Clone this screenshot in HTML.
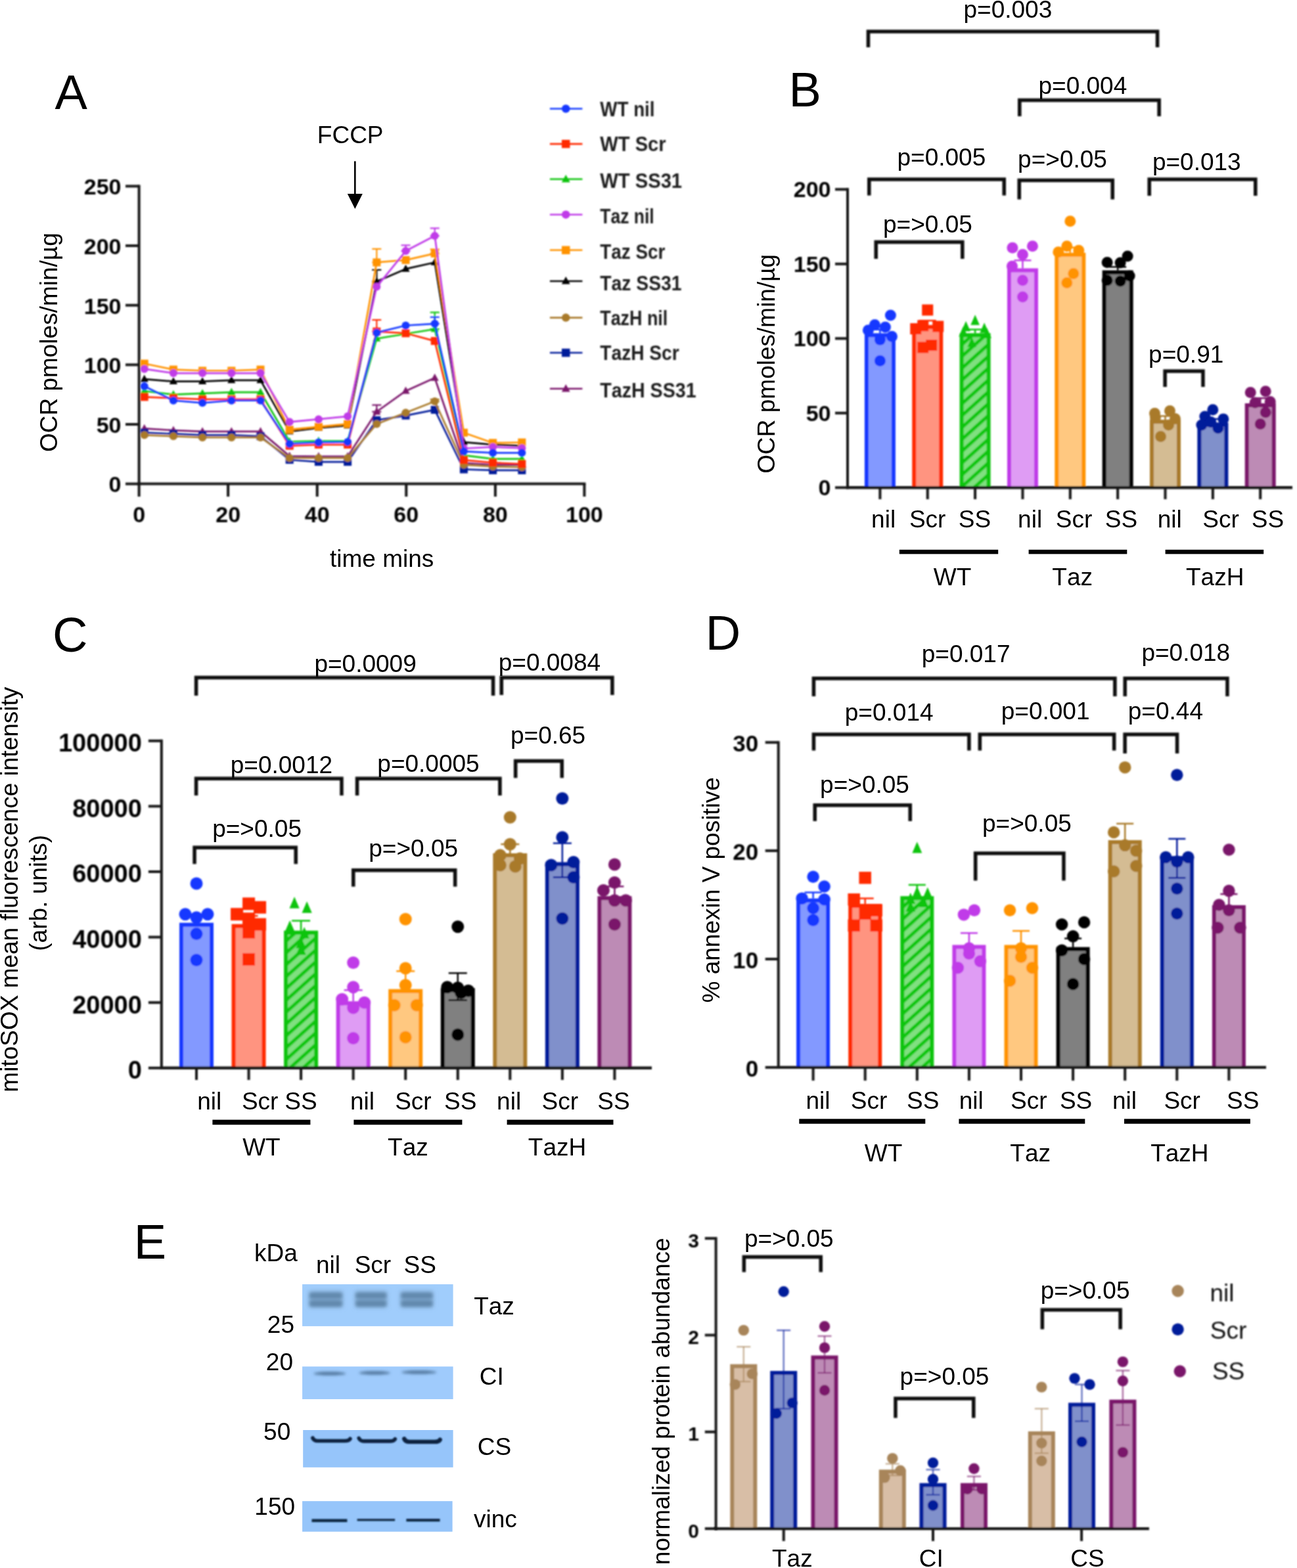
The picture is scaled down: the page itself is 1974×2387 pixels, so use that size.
<!DOCTYPE html>
<html><head><meta charset="utf-8"><title>Figure</title>
<style>
html,body{margin:0;padding:0;background:#fff;}
body{width:1974px;height:2387px;overflow:hidden;}
svg{display:block;}
text{font-family:"Liberation Sans", Arial, Helvetica, sans-serif;font-kerning:none;}
</style></head><body>
<svg width="1974" height="2387" viewBox="0 0 1974 2387">
<defs>
<filter id="soft" filterUnits="userSpaceOnUse" x="0" y="0" width="1974" height="2387"><feGaussianBlur stdDeviation="0.8"/></filter>
<pattern id="hatchG" patternUnits="userSpaceOnUse" width="13.4" height="13.4" patternTransform="rotate(-42)">
<rect width="13.4" height="13.4" fill="#80e080"/><rect width="13.4" height="5.2" fill="#10c610"/></pattern>
<filter id="bl1" x="-20%" y="-200%" width="140%" height="500%"><feGaussianBlur stdDeviation="1"/></filter>
<filter id="bl2" x="-20%" y="-200%" width="140%" height="500%"><feGaussianBlur stdDeviation="1.9"/></filter>
<filter id="bl3" x="-20%" y="-200%" width="140%" height="500%"><feGaussianBlur stdDeviation="2.6"/></filter>
<filter id="bl4" x="-20%" y="-100%" width="140%" height="300%"><feGaussianBlur stdDeviation="3.5"/></filter>
</defs>
<rect width="1974" height="2387" fill="#fff"/>
<g filter="url(#soft)">
<line x1="211.6" y1="281.45" x2="211.6" y2="738.6" stroke="#141414" stroke-width="4" stroke-linecap="butt"/>
<line x1="209.6" y1="736.6" x2="891.4" y2="736.6" stroke="#141414" stroke-width="4" stroke-linecap="butt"/>
<line x1="191" y1="736.6" x2="211.6" y2="736.6" stroke="#141414" stroke-width="4" stroke-linecap="butt"/>
<text x="184.5" y="749.4" font-size="34" font-weight="bold" text-anchor="end" fill="#050505">0</text>
<line x1="191" y1="645.97" x2="211.6" y2="645.97" stroke="#141414" stroke-width="4" stroke-linecap="butt"/>
<text x="184.5" y="658.77" font-size="34" font-weight="bold" text-anchor="end" fill="#050505">50</text>
<line x1="191" y1="555.34" x2="211.6" y2="555.34" stroke="#141414" stroke-width="4" stroke-linecap="butt"/>
<text x="184.5" y="568.14" font-size="34" font-weight="bold" text-anchor="end" fill="#050505">100</text>
<line x1="191" y1="464.71" x2="211.6" y2="464.71" stroke="#141414" stroke-width="4" stroke-linecap="butt"/>
<text x="184.5" y="477.51" font-size="34" font-weight="bold" text-anchor="end" fill="#050505">150</text>
<line x1="191" y1="374.08" x2="211.6" y2="374.08" stroke="#141414" stroke-width="4" stroke-linecap="butt"/>
<text x="184.5" y="386.88" font-size="34" font-weight="bold" text-anchor="end" fill="#050505">200</text>
<line x1="191" y1="283.45" x2="211.6" y2="283.45" stroke="#141414" stroke-width="4" stroke-linecap="butt"/>
<text x="184.5" y="296.25" font-size="34" font-weight="bold" text-anchor="end" fill="#050505">250</text>
<line x1="211.6" y1="736.6" x2="211.6" y2="756" stroke="#141414" stroke-width="4" stroke-linecap="butt"/>
<text x="211.6" y="795" font-size="34" font-weight="bold" text-anchor="middle" fill="#050505">0</text>
<line x1="347.16" y1="736.6" x2="347.16" y2="756" stroke="#141414" stroke-width="4" stroke-linecap="butt"/>
<text x="347.16" y="795" font-size="34" font-weight="bold" text-anchor="middle" fill="#050505">20</text>
<line x1="482.72" y1="736.6" x2="482.72" y2="756" stroke="#141414" stroke-width="4" stroke-linecap="butt"/>
<text x="482.72" y="795" font-size="34" font-weight="bold" text-anchor="middle" fill="#050505">40</text>
<line x1="618.28" y1="736.6" x2="618.28" y2="756" stroke="#141414" stroke-width="4" stroke-linecap="butt"/>
<text x="618.28" y="795" font-size="34" font-weight="bold" text-anchor="middle" fill="#050505">60</text>
<line x1="753.84" y1="736.6" x2="753.84" y2="756" stroke="#141414" stroke-width="4" stroke-linecap="butt"/>
<text x="753.84" y="795" font-size="34" font-weight="bold" text-anchor="middle" fill="#050505">80</text>
<line x1="889.4" y1="736.6" x2="889.4" y2="756" stroke="#141414" stroke-width="4" stroke-linecap="butt"/>
<text x="889.4" y="795" font-size="34" font-weight="bold" text-anchor="middle" fill="#050505">100</text>
</g>
<text x="581.2" y="862.7" font-size="37" text-anchor="middle" fill="#000">time mins</text>
<text transform="translate(87.3 521.2) rotate(-90)" font-size="37" text-anchor="middle" fill="#000">OCR pmoles/min/µg</text>
<text x="108.2" y="166.2" font-size="74" text-anchor="middle" fill="#000">A</text>
<text x="533.2" y="218" font-size="37" text-anchor="middle" fill="#000">FCCP</text>
<line x1="540.3" y1="245.4" x2="540.3" y2="298" stroke="#000" stroke-width="2.6" stroke-linecap="butt"/>
<path d="M528.8 295 L551.8 295 L540.3 318 Z" fill="#000"/>
<g filter="url(#soft)">
<line x1="573.3" y1="616.61" x2="573.3" y2="626.76" stroke="#7a176b" stroke-width="2.2" stroke-linecap="butt"/>
<line x1="566.3" y1="616.61" x2="580.3" y2="616.61" stroke="#7a176b" stroke-width="2.2" stroke-linecap="butt"/>
<line x1="566.3" y1="626.76" x2="580.3" y2="626.76" stroke="#7a176b" stroke-width="2.2" stroke-linecap="butt"/>
<polyline points="219.7,652.31 263.9,655.03 308.1,656.85 352.3,656.85 396.5,656.85 440.7,694.37 484.9,694.91 529.1,694.91 573.3,626.76 617.5,595.22 661.7,575.28 705.9,704.88 750.1,707.6 794.3,707.6" fill="none" stroke="#7a176b" stroke-width="2.7" stroke-linejoin="round"/>
<path d="M219.7 645.7 L225.82 656.72 L213.58 656.72 Z" fill="#7a176b"/>
<path d="M263.9 648.42 L270.02 659.44 L257.78 659.44 Z" fill="#7a176b"/>
<path d="M308.1 650.24 L314.22 661.25 L301.98 661.25 Z" fill="#7a176b"/>
<path d="M352.3 650.24 L358.42 661.25 L346.18 661.25 Z" fill="#7a176b"/>
<path d="M396.5 650.24 L402.62 661.25 L390.38 661.25 Z" fill="#7a176b"/>
<path d="M440.7 687.76 L446.82 698.77 L434.58 698.77 Z" fill="#7a176b"/>
<path d="M484.9 688.3 L491.02 699.32 L478.78 699.32 Z" fill="#7a176b"/>
<path d="M529.1 688.3 L535.22 699.32 L522.98 699.32 Z" fill="#7a176b"/>
<path d="M573.3 620.15 L579.42 631.16 L567.18 631.16 Z" fill="#7a176b"/>
<path d="M617.5 588.61 L623.62 599.62 L611.38 599.62 Z" fill="#7a176b"/>
<path d="M661.7 568.67 L667.82 579.68 L655.58 579.68 Z" fill="#7a176b"/>
<path d="M705.9 698.27 L712.02 709.29 L699.78 709.29 Z" fill="#7a176b"/>
<path d="M750.1 700.99 L756.22 712 L743.98 712 Z" fill="#7a176b"/>
<path d="M794.3 700.99 L800.42 712 L788.18 712 Z" fill="#7a176b"/>
<polyline points="219.7,658.66 263.9,660.47 308.1,662.28 352.3,662.28 396.5,664.1 440.7,699.99 484.9,703.07 529.1,703.07 573.3,639.63 617.5,632.56 661.7,623.86 705.9,714.49 750.1,715.94 794.3,715.94" fill="none" stroke="#031a9a" stroke-width="2.7" stroke-linejoin="round"/>
<rect x="213.7" y="652.66" width="12" height="12" fill="#031a9a"/>
<rect x="257.9" y="654.47" width="12" height="12" fill="#031a9a"/>
<rect x="302.1" y="656.28" width="12" height="12" fill="#031a9a"/>
<rect x="346.3" y="656.28" width="12" height="12" fill="#031a9a"/>
<rect x="390.5" y="658.1" width="12" height="12" fill="#031a9a"/>
<rect x="434.7" y="693.99" width="12" height="12" fill="#031a9a"/>
<rect x="478.9" y="697.07" width="12" height="12" fill="#031a9a"/>
<rect x="523.1" y="697.07" width="12" height="12" fill="#031a9a"/>
<rect x="567.3" y="633.63" width="12" height="12" fill="#031a9a"/>
<rect x="611.5" y="626.56" width="12" height="12" fill="#031a9a"/>
<rect x="655.7" y="617.86" width="12" height="12" fill="#031a9a"/>
<rect x="699.9" y="708.49" width="12" height="12" fill="#031a9a"/>
<rect x="744.1" y="709.94" width="12" height="12" fill="#031a9a"/>
<rect x="788.3" y="709.94" width="12" height="12" fill="#031a9a"/>
<line x1="661.7" y1="607.91" x2="661.7" y2="610.99" stroke="#a97a2c" stroke-width="2.2" stroke-linecap="butt"/>
<line x1="654.7" y1="607.91" x2="668.7" y2="607.91" stroke="#a97a2c" stroke-width="2.2" stroke-linecap="butt"/>
<line x1="654.7" y1="610.99" x2="668.7" y2="610.99" stroke="#a97a2c" stroke-width="2.2" stroke-linecap="butt"/>
<polyline points="219.7,662.28 263.9,664.1 308.1,665.91 352.3,665.91 396.5,665.91 440.7,697.27 484.9,697.27 529.1,697.27 573.3,645.43 617.5,628.21 661.7,610.99 705.9,707.6 750.1,710.14 794.3,711.22" fill="none" stroke="#a97a2c" stroke-width="2.7" stroke-linejoin="round"/>
<circle cx="219.7" cy="662.28" r="6" fill="#a97a2c"/>
<circle cx="263.9" cy="664.1" r="6" fill="#a97a2c"/>
<circle cx="308.1" cy="665.91" r="6" fill="#a97a2c"/>
<circle cx="352.3" cy="665.91" r="6" fill="#a97a2c"/>
<circle cx="396.5" cy="665.91" r="6" fill="#a97a2c"/>
<circle cx="440.7" cy="697.27" r="6" fill="#a97a2c"/>
<circle cx="484.9" cy="697.27" r="6" fill="#a97a2c"/>
<circle cx="529.1" cy="697.27" r="6" fill="#a97a2c"/>
<circle cx="573.3" cy="645.43" r="6" fill="#a97a2c"/>
<circle cx="617.5" cy="628.21" r="6" fill="#a97a2c"/>
<circle cx="661.7" cy="610.99" r="6" fill="#a97a2c"/>
<circle cx="705.9" cy="707.6" r="6" fill="#a97a2c"/>
<circle cx="750.1" cy="710.14" r="6" fill="#a97a2c"/>
<circle cx="794.3" cy="711.22" r="6" fill="#a97a2c"/>
<line x1="573.3" y1="410.88" x2="573.3" y2="428.46" stroke="#000000" stroke-width="2.2" stroke-linecap="butt"/>
<line x1="566.3" y1="410.88" x2="580.3" y2="410.88" stroke="#000000" stroke-width="2.2" stroke-linecap="butt"/>
<line x1="566.3" y1="428.46" x2="580.3" y2="428.46" stroke="#000000" stroke-width="2.2" stroke-linecap="butt"/>
<polyline points="219.7,577.09 263.9,580.72 308.1,580.72 352.3,578.9 396.5,578.9 440.7,656.85 484.9,651.41 529.1,647.78 573.3,428.46 617.5,409.43 661.7,399.46 705.9,673.16 750.1,676.78 794.3,678.6" fill="none" stroke="#000000" stroke-width="2.7" stroke-linejoin="round"/>
<path d="M219.7 570.48 L225.82 581.5 L213.58 581.5 Z" fill="#000000"/>
<path d="M263.9 574.11 L270.02 585.12 L257.78 585.12 Z" fill="#000000"/>
<path d="M308.1 574.11 L314.22 585.12 L301.98 585.12 Z" fill="#000000"/>
<path d="M352.3 572.29 L358.42 583.31 L346.18 583.31 Z" fill="#000000"/>
<path d="M396.5 572.29 L402.62 583.31 L390.38 583.31 Z" fill="#000000"/>
<path d="M440.7 650.24 L446.82 661.25 L434.58 661.25 Z" fill="#000000"/>
<path d="M484.9 644.8 L491.02 655.81 L478.78 655.81 Z" fill="#000000"/>
<path d="M529.1 641.17 L535.22 652.19 L522.98 652.19 Z" fill="#000000"/>
<path d="M573.3 421.85 L579.42 432.86 L567.18 432.86 Z" fill="#000000"/>
<path d="M617.5 402.82 L623.62 413.83 L611.38 413.83 Z" fill="#000000"/>
<path d="M661.7 392.85 L667.82 403.86 L655.58 403.86 Z" fill="#000000"/>
<path d="M705.9 666.55 L712.02 677.57 L699.78 677.57 Z" fill="#000000"/>
<path d="M750.1 670.17 L756.22 681.19 L743.98 681.19 Z" fill="#000000"/>
<path d="M794.3 671.99 L800.42 683 L788.18 683 Z" fill="#000000"/>
<line x1="573.3" y1="378.97" x2="573.3" y2="399.46" stroke="#ff9300" stroke-width="2.2" stroke-linecap="butt"/>
<line x1="566.3" y1="378.97" x2="580.3" y2="378.97" stroke="#ff9300" stroke-width="2.2" stroke-linecap="butt"/>
<line x1="566.3" y1="399.46" x2="580.3" y2="399.46" stroke="#ff9300" stroke-width="2.2" stroke-linecap="butt"/>
<line x1="661.7" y1="379.52" x2="661.7" y2="385.86" stroke="#ff9300" stroke-width="2.2" stroke-linecap="butt"/>
<line x1="654.7" y1="379.52" x2="668.7" y2="379.52" stroke="#ff9300" stroke-width="2.2" stroke-linecap="butt"/>
<line x1="654.7" y1="385.86" x2="668.7" y2="385.86" stroke="#ff9300" stroke-width="2.2" stroke-linecap="butt"/>
<polyline points="219.7,553.53 263.9,562.59 308.1,564.4 352.3,564.4 396.5,562.59 440.7,653.95 484.9,649.6 529.1,645.43 573.3,399.46 617.5,395.83 661.7,385.86 705.9,658.66 750.1,674.25 794.3,673.52" fill="none" stroke="#ff9300" stroke-width="2.7" stroke-linejoin="round"/>
<rect x="213.7" y="547.53" width="12" height="12" fill="#ff9300"/>
<rect x="257.9" y="556.59" width="12" height="12" fill="#ff9300"/>
<rect x="302.1" y="558.4" width="12" height="12" fill="#ff9300"/>
<rect x="346.3" y="558.4" width="12" height="12" fill="#ff9300"/>
<rect x="390.5" y="556.59" width="12" height="12" fill="#ff9300"/>
<rect x="434.7" y="647.95" width="12" height="12" fill="#ff9300"/>
<rect x="478.9" y="643.6" width="12" height="12" fill="#ff9300"/>
<rect x="523.1" y="639.43" width="12" height="12" fill="#ff9300"/>
<rect x="567.3" y="393.46" width="12" height="12" fill="#ff9300"/>
<rect x="611.5" y="389.83" width="12" height="12" fill="#ff9300"/>
<rect x="655.7" y="379.86" width="12" height="12" fill="#ff9300"/>
<rect x="699.9" y="652.66" width="12" height="12" fill="#ff9300"/>
<rect x="744.1" y="668.25" width="12" height="12" fill="#ff9300"/>
<rect x="788.3" y="667.52" width="12" height="12" fill="#ff9300"/>
<line x1="617.5" y1="373.35" x2="617.5" y2="382.06" stroke="#c03ae8" stroke-width="2.2" stroke-linecap="butt"/>
<line x1="610.5" y1="373.35" x2="624.5" y2="373.35" stroke="#c03ae8" stroke-width="2.2" stroke-linecap="butt"/>
<line x1="610.5" y1="382.06" x2="624.5" y2="382.06" stroke="#c03ae8" stroke-width="2.2" stroke-linecap="butt"/>
<line x1="661.7" y1="347.43" x2="661.7" y2="359.04" stroke="#c03ae8" stroke-width="2.2" stroke-linecap="butt"/>
<line x1="654.7" y1="347.43" x2="668.7" y2="347.43" stroke="#c03ae8" stroke-width="2.2" stroke-linecap="butt"/>
<line x1="654.7" y1="359.04" x2="668.7" y2="359.04" stroke="#c03ae8" stroke-width="2.2" stroke-linecap="butt"/>
<polyline points="219.7,561.68 263.9,568.03 308.1,568.03 352.3,568.03 396.5,568.03 440.7,642.34 484.9,638.18 529.1,633.83 573.3,436.61 617.5,382.06 661.7,359.04 705.9,682.77 750.1,680.41 794.3,682.22" fill="none" stroke="#c03ae8" stroke-width="2.7" stroke-linejoin="round"/>
<circle cx="219.7" cy="561.68" r="6" fill="#c03ae8"/>
<circle cx="263.9" cy="568.03" r="6" fill="#c03ae8"/>
<circle cx="308.1" cy="568.03" r="6" fill="#c03ae8"/>
<circle cx="352.3" cy="568.03" r="6" fill="#c03ae8"/>
<circle cx="396.5" cy="568.03" r="6" fill="#c03ae8"/>
<circle cx="440.7" cy="642.34" r="6" fill="#c03ae8"/>
<circle cx="484.9" cy="638.18" r="6" fill="#c03ae8"/>
<circle cx="529.1" cy="633.83" r="6" fill="#c03ae8"/>
<circle cx="573.3" cy="436.61" r="6" fill="#c03ae8"/>
<circle cx="617.5" cy="382.06" r="6" fill="#c03ae8"/>
<circle cx="661.7" cy="359.04" r="6" fill="#c03ae8"/>
<circle cx="705.9" cy="682.77" r="6" fill="#c03ae8"/>
<circle cx="750.1" cy="680.41" r="6" fill="#c03ae8"/>
<circle cx="794.3" cy="682.22" r="6" fill="#c03ae8"/>
<line x1="661.7" y1="475.59" x2="661.7" y2="500.96" stroke="#0cc40c" stroke-width="2.2" stroke-linecap="butt"/>
<line x1="654.7" y1="475.59" x2="668.7" y2="475.59" stroke="#0cc40c" stroke-width="2.2" stroke-linecap="butt"/>
<line x1="654.7" y1="500.96" x2="668.7" y2="500.96" stroke="#0cc40c" stroke-width="2.2" stroke-linecap="butt"/>
<polyline points="219.7,595.22 263.9,600.65 308.1,598.84 352.3,597.03 396.5,597.03 440.7,672.25 484.9,671.35 529.1,671.35 573.3,515.46 617.5,508.21 661.7,500.96 705.9,693.1 750.1,698.54 794.3,698.54" fill="none" stroke="#0cc40c" stroke-width="2.7" stroke-linejoin="round"/>
<path d="M219.7 588.61 L225.82 599.62 L213.58 599.62 Z" fill="#0cc40c"/>
<path d="M263.9 594.05 L270.02 605.06 L257.78 605.06 Z" fill="#0cc40c"/>
<path d="M308.1 592.23 L314.22 603.25 L301.98 603.25 Z" fill="#0cc40c"/>
<path d="M352.3 590.42 L358.42 601.44 L346.18 601.44 Z" fill="#0cc40c"/>
<path d="M396.5 590.42 L402.62 601.44 L390.38 601.44 Z" fill="#0cc40c"/>
<path d="M440.7 665.64 L446.82 676.66 L434.58 676.66 Z" fill="#0cc40c"/>
<path d="M484.9 664.74 L491.02 675.75 L478.78 675.75 Z" fill="#0cc40c"/>
<path d="M529.1 664.74 L535.22 675.75 L522.98 675.75 Z" fill="#0cc40c"/>
<path d="M573.3 508.85 L579.42 519.87 L567.18 519.87 Z" fill="#0cc40c"/>
<path d="M617.5 501.6 L623.62 512.62 L611.38 512.62 Z" fill="#0cc40c"/>
<path d="M661.7 494.35 L667.82 505.37 L655.58 505.37 Z" fill="#0cc40c"/>
<path d="M705.9 686.49 L712.02 697.5 L699.78 697.5 Z" fill="#0cc40c"/>
<path d="M750.1 691.93 L756.22 702.94 L743.98 702.94 Z" fill="#0cc40c"/>
<path d="M794.3 691.93 L800.42 702.94 L788.18 702.94 Z" fill="#0cc40c"/>
<line x1="573.3" y1="487" x2="573.3" y2="504.59" stroke="#ff2a00" stroke-width="2.2" stroke-linecap="butt"/>
<line x1="566.3" y1="487" x2="580.3" y2="487" stroke="#ff2a00" stroke-width="2.2" stroke-linecap="butt"/>
<line x1="566.3" y1="504.59" x2="580.3" y2="504.59" stroke="#ff2a00" stroke-width="2.2" stroke-linecap="butt"/>
<polyline points="219.7,604.28 263.9,606.09 308.1,607.91 352.3,607.91 396.5,607.91 440.7,678.6 484.9,676.78 529.1,676.78 573.3,504.59 617.5,507.31 661.7,519.09 705.9,700.35 750.1,704.34 794.3,706.33" fill="none" stroke="#ff2a00" stroke-width="2.7" stroke-linejoin="round"/>
<rect x="213.7" y="598.28" width="12" height="12" fill="#ff2a00"/>
<rect x="257.9" y="600.09" width="12" height="12" fill="#ff2a00"/>
<rect x="302.1" y="601.91" width="12" height="12" fill="#ff2a00"/>
<rect x="346.3" y="601.91" width="12" height="12" fill="#ff2a00"/>
<rect x="390.5" y="601.91" width="12" height="12" fill="#ff2a00"/>
<rect x="434.7" y="672.6" width="12" height="12" fill="#ff2a00"/>
<rect x="478.9" y="670.78" width="12" height="12" fill="#ff2a00"/>
<rect x="523.1" y="670.78" width="12" height="12" fill="#ff2a00"/>
<rect x="567.3" y="498.59" width="12" height="12" fill="#ff2a00"/>
<rect x="611.5" y="501.31" width="12" height="12" fill="#ff2a00"/>
<rect x="655.7" y="513.09" width="12" height="12" fill="#ff2a00"/>
<rect x="699.9" y="694.35" width="12" height="12" fill="#ff2a00"/>
<rect x="744.1" y="698.34" width="12" height="12" fill="#ff2a00"/>
<rect x="788.3" y="700.33" width="12" height="12" fill="#ff2a00"/>
<line x1="661.7" y1="482.84" x2="661.7" y2="492.81" stroke="#1438ff" stroke-width="2.2" stroke-linecap="butt"/>
<line x1="654.7" y1="482.84" x2="668.7" y2="482.84" stroke="#1438ff" stroke-width="2.2" stroke-linecap="butt"/>
<line x1="654.7" y1="492.81" x2="668.7" y2="492.81" stroke="#1438ff" stroke-width="2.2" stroke-linecap="butt"/>
<polyline points="219.7,587.97 263.9,609.72 308.1,613.34 352.3,609.72 396.5,609.72 440.7,675.7 484.9,673.52 529.1,672.8 573.3,506.4 617.5,495.52 661.7,492.81 705.9,687.12 750.1,689.29 794.3,689.29" fill="none" stroke="#1438ff" stroke-width="2.7" stroke-linejoin="round"/>
<circle cx="219.7" cy="587.97" r="6" fill="#1438ff"/>
<circle cx="263.9" cy="609.72" r="6" fill="#1438ff"/>
<circle cx="308.1" cy="613.34" r="6" fill="#1438ff"/>
<circle cx="352.3" cy="609.72" r="6" fill="#1438ff"/>
<circle cx="396.5" cy="609.72" r="6" fill="#1438ff"/>
<circle cx="440.7" cy="675.7" r="6" fill="#1438ff"/>
<circle cx="484.9" cy="673.52" r="6" fill="#1438ff"/>
<circle cx="529.1" cy="672.8" r="6" fill="#1438ff"/>
<circle cx="573.3" cy="506.4" r="6" fill="#1438ff"/>
<circle cx="617.5" cy="495.52" r="6" fill="#1438ff"/>
<circle cx="661.7" cy="492.81" r="6" fill="#1438ff"/>
<circle cx="705.9" cy="687.12" r="6" fill="#1438ff"/>
<circle cx="750.1" cy="689.29" r="6" fill="#1438ff"/>
<circle cx="794.3" cy="689.29" r="6" fill="#1438ff"/>
<line x1="836.9" y1="165.5" x2="886.4" y2="165.5" stroke="#1438ff" stroke-width="2.6" stroke-linecap="butt"/>
<circle cx="861.2" cy="165.5" r="6.25" fill="#1438ff"/>
<text x="913.3" y="177.2" font-size="31.5" font-weight="bold" text-anchor="start" fill="#1a1a1a" textLength="83.2" lengthAdjust="spacingAndGlyphs">WT nil</text>
<line x1="836.9" y1="219.1" x2="886.4" y2="219.1" stroke="#ff2a00" stroke-width="2.6" stroke-linecap="butt"/>
<rect x="854.95" y="212.85" width="12.5" height="12.5" fill="#ff2a00"/>
<text x="913.3" y="230" font-size="31.5" font-weight="bold" text-anchor="start" fill="#1a1a1a" textLength="100.3" lengthAdjust="spacingAndGlyphs">WT Scr</text>
<line x1="836.9" y1="272.8" x2="886.4" y2="272.8" stroke="#0cc40c" stroke-width="2.6" stroke-linecap="butt"/>
<path d="M861.2 265.92 L867.58 277.39 L854.83 277.39 Z" fill="#0cc40c"/>
<text x="913.3" y="285.5" font-size="31.5" font-weight="bold" text-anchor="start" fill="#1a1a1a" textLength="124.8" lengthAdjust="spacingAndGlyphs">WT SS31</text>
<line x1="836.9" y1="326.7" x2="886.4" y2="326.7" stroke="#c03ae8" stroke-width="2.6" stroke-linecap="butt"/>
<circle cx="861.2" cy="326.7" r="6.25" fill="#c03ae8"/>
<text x="913.3" y="340.4" font-size="31.5" font-weight="bold" text-anchor="start" fill="#1a1a1a" textLength="82.3" lengthAdjust="spacingAndGlyphs">Taz nil</text>
<line x1="836.9" y1="380.8" x2="886.4" y2="380.8" stroke="#ff9300" stroke-width="2.6" stroke-linecap="butt"/>
<rect x="854.95" y="374.55" width="12.5" height="12.5" fill="#ff9300"/>
<text x="913.3" y="393.7" font-size="31.5" font-weight="bold" text-anchor="start" fill="#1a1a1a" textLength="99.1" lengthAdjust="spacingAndGlyphs">Taz Scr</text>
<line x1="836.9" y1="428" x2="886.4" y2="428" stroke="#000000" stroke-width="2.6" stroke-linecap="butt"/>
<path d="M861.2 421.12 L867.58 432.59 L854.83 432.59 Z" fill="#000000"/>
<text x="913.3" y="441.7" font-size="31.5" font-weight="bold" text-anchor="start" fill="#1a1a1a" textLength="124.2" lengthAdjust="spacingAndGlyphs">Taz SS31</text>
<line x1="836.9" y1="483.6" x2="886.4" y2="483.6" stroke="#a97a2c" stroke-width="2.6" stroke-linecap="butt"/>
<circle cx="861.2" cy="483.6" r="6.25" fill="#a97a2c"/>
<text x="913.3" y="495" font-size="31.5" font-weight="bold" text-anchor="start" fill="#1a1a1a" textLength="102.9" lengthAdjust="spacingAndGlyphs">TazH nil</text>
<line x1="836.9" y1="537" x2="886.4" y2="537" stroke="#031a9a" stroke-width="2.6" stroke-linecap="butt"/>
<rect x="854.95" y="530.75" width="12.5" height="12.5" fill="#031a9a"/>
<text x="913.3" y="548.4" font-size="31.5" font-weight="bold" text-anchor="start" fill="#1a1a1a" textLength="120.4" lengthAdjust="spacingAndGlyphs">TazH Scr</text>
<line x1="836.9" y1="591.8" x2="886.4" y2="591.8" stroke="#7a176b" stroke-width="2.6" stroke-linecap="butt"/>
<path d="M861.2 584.91 L867.58 596.39 L854.83 596.39 Z" fill="#7a176b"/>
<text x="913.3" y="604.5" font-size="31.5" font-weight="bold" text-anchor="start" fill="#1a1a1a" textLength="146.3" lengthAdjust="spacingAndGlyphs">TazH SS31</text>
</g>
<g filter="url(#soft)">
<line x1="1290" y1="286.3" x2="1290" y2="744.3" stroke="#141414" stroke-width="4" stroke-linecap="butt"/>
<line x1="1271" y1="742.3" x2="1290" y2="742.3" stroke="#141414" stroke-width="4" stroke-linecap="butt"/>
<text x="1264.5" y="754.47" font-size="34" font-weight="bold" text-anchor="end" fill="#050505">0</text>
<line x1="1271" y1="628.8" x2="1290" y2="628.8" stroke="#141414" stroke-width="4" stroke-linecap="butt"/>
<text x="1264.5" y="640.97" font-size="34" font-weight="bold" text-anchor="end" fill="#050505">50</text>
<line x1="1271" y1="515.3" x2="1290" y2="515.3" stroke="#141414" stroke-width="4" stroke-linecap="butt"/>
<text x="1264.5" y="527.47" font-size="34" font-weight="bold" text-anchor="end" fill="#050505">100</text>
<line x1="1271" y1="401.8" x2="1290" y2="401.8" stroke="#141414" stroke-width="4" stroke-linecap="butt"/>
<text x="1264.5" y="413.97" font-size="34" font-weight="bold" text-anchor="end" fill="#050505">150</text>
<line x1="1271" y1="288.3" x2="1290" y2="288.3" stroke="#141414" stroke-width="4" stroke-linecap="butt"/>
<text x="1264.5" y="300.47" font-size="34" font-weight="bold" text-anchor="end" fill="#050505">200</text>
<path d="M1318.9 742.3 V510.35 H1359.9 V742.3" fill="#8399ff" stroke="#1438ff" stroke-width="6"/>
<path d="M1391.25 742.3 V497.87 H1432.25 V742.3" fill="#ff9480" stroke="#ff2a00" stroke-width="6"/>
<path d="M1463.6 742.3 V510.35 H1504.6 V742.3" fill="url(#hatchG)" stroke="#0cc40c" stroke-width="6"/>
<path d="M1535.95 742.3 V411.61 H1576.95 V742.3" fill="#df9cf4" stroke="#c03ae8" stroke-width="6"/>
<path d="M1608.3 742.3 V387.77 H1649.3 V742.3" fill="#ffc880" stroke="#ff9300" stroke-width="6"/>
<path d="M1680.65 742.3 V414.56 H1721.65 V742.3" fill="#808080" stroke="#000000" stroke-width="6"/>
<path d="M1753 742.3 V642.01 H1794 V742.3" fill="#d4bc93" stroke="#a97a2c" stroke-width="6"/>
<path d="M1825.35 742.3 V646.55 H1866.35 V742.3" fill="#8090cb" stroke="#031a9a" stroke-width="6"/>
<path d="M1897.7 742.3 V617.04 H1938.7 V742.3" fill="#bd8bb5" stroke="#7a176b" stroke-width="6"/>
<line x1="1339.4" y1="501.68" x2="1339.4" y2="507.35" stroke="#1438ff" stroke-width="2.5" stroke-linecap="butt"/>
<line x1="1326.4" y1="501.68" x2="1352.4" y2="501.68" stroke="#1438ff" stroke-width="2.5" stroke-linecap="butt"/>
<line x1="1411.75" y1="488.06" x2="1411.75" y2="494.87" stroke="#ff2a00" stroke-width="2.5" stroke-linecap="butt"/>
<line x1="1398.75" y1="488.06" x2="1424.75" y2="488.06" stroke="#ff2a00" stroke-width="2.5" stroke-linecap="butt"/>
<line x1="1484.1" y1="501.68" x2="1484.1" y2="507.35" stroke="#0cc40c" stroke-width="2.5" stroke-linecap="butt"/>
<line x1="1471.1" y1="501.68" x2="1497.1" y2="501.68" stroke="#0cc40c" stroke-width="2.5" stroke-linecap="butt"/>
<line x1="1556.45" y1="396.35" x2="1556.45" y2="408.61" stroke="#c03ae8" stroke-width="2.5" stroke-linecap="butt"/>
<line x1="1543.45" y1="396.35" x2="1569.45" y2="396.35" stroke="#c03ae8" stroke-width="2.5" stroke-linecap="butt"/>
<line x1="1628.8" y1="376.83" x2="1628.8" y2="384.77" stroke="#ff9300" stroke-width="2.5" stroke-linecap="butt"/>
<line x1="1615.8" y1="376.83" x2="1641.8" y2="376.83" stroke="#ff9300" stroke-width="2.5" stroke-linecap="butt"/>
<line x1="1701.15" y1="406.34" x2="1701.15" y2="411.56" stroke="#000000" stroke-width="2.5" stroke-linecap="butt"/>
<line x1="1688.15" y1="406.34" x2="1714.15" y2="406.34" stroke="#000000" stroke-width="2.5" stroke-linecap="butt"/>
<line x1="1773.5" y1="633.34" x2="1773.5" y2="639.01" stroke="#a97a2c" stroke-width="2.5" stroke-linecap="butt"/>
<line x1="1760.5" y1="633.34" x2="1786.5" y2="633.34" stroke="#a97a2c" stroke-width="2.5" stroke-linecap="butt"/>
<line x1="1845.85" y1="637.88" x2="1845.85" y2="643.55" stroke="#031a9a" stroke-width="2.5" stroke-linecap="butt"/>
<line x1="1832.85" y1="637.88" x2="1858.85" y2="637.88" stroke="#031a9a" stroke-width="2.5" stroke-linecap="butt"/>
<line x1="1918.2" y1="606.1" x2="1918.2" y2="614.04" stroke="#7a176b" stroke-width="2.5" stroke-linecap="butt"/>
<line x1="1905.2" y1="606.1" x2="1931.2" y2="606.1" stroke="#7a176b" stroke-width="2.5" stroke-linecap="butt"/>
<circle cx="1339.4" cy="549.35" r="8.5" fill="#1438ff"/>
<circle cx="1355.4" cy="480.11" r="8.5" fill="#1438ff"/>
<circle cx="1331.4" cy="494.42" r="8.5" fill="#1438ff"/>
<circle cx="1347.4" cy="498.05" r="8.5" fill="#1438ff"/>
<circle cx="1321.4" cy="502.81" r="8.5" fill="#1438ff"/>
<circle cx="1357.4" cy="512.35" r="8.5" fill="#1438ff"/>
<circle cx="1339.4" cy="517.12" r="8.5" fill="#1438ff"/>
<rect x="1403.25" y="463.44" width="17" height="17" fill="#ff2a00"/>
<rect x="1396.25" y="487.28" width="17" height="17" fill="#ff2a00"/>
<rect x="1419.25" y="488.41" width="17" height="17" fill="#ff2a00"/>
<rect x="1385.25" y="492.04" width="17" height="17" fill="#ff2a00"/>
<rect x="1396.25" y="520.42" width="17" height="17" fill="#ff2a00"/>
<rect x="1409.25" y="517.01" width="17" height="17" fill="#ff2a00"/>
<path d="M1484.1 479.13 L1490.9 494.77 L1477.3 494.77 Z" fill="#0cc40c"/>
<path d="M1470.1 488.66 L1476.9 504.3 L1463.3 504.3 Z" fill="#0cc40c"/>
<path d="M1498.1 491.16 L1504.9 506.8 L1491.3 506.8 Z" fill="#0cc40c"/>
<path d="M1466.1 496.84 L1472.9 512.48 L1459.3 512.48 Z" fill="#0cc40c"/>
<path d="M1502.1 499.11 L1508.9 514.75 L1495.3 514.75 Z" fill="#0cc40c"/>
<path d="M1479.1 512.73 L1485.9 528.37 L1472.3 528.37 Z" fill="#0cc40c"/>
<circle cx="1540.95" cy="377.28" r="8.5" fill="#c03ae8"/>
<circle cx="1571.45" cy="374.79" r="8.5" fill="#c03ae8"/>
<circle cx="1556.45" cy="387.5" r="8.5" fill="#c03ae8"/>
<circle cx="1540.45" cy="405.2" r="8.5" fill="#c03ae8"/>
<circle cx="1556.45" cy="426.77" r="8.5" fill="#c03ae8"/>
<circle cx="1556.45" cy="451.97" r="8.5" fill="#c03ae8"/>
<circle cx="1628.8" cy="336.65" r="8.5" fill="#ff9300"/>
<circle cx="1623.8" cy="374.79" r="8.5" fill="#ff9300"/>
<circle cx="1610.8" cy="383.64" r="8.5" fill="#ff9300"/>
<circle cx="1641.8" cy="381.14" r="8.5" fill="#ff9300"/>
<circle cx="1633.8" cy="416.55" r="8.5" fill="#ff9300"/>
<circle cx="1623.8" cy="430.4" r="8.5" fill="#ff9300"/>
<circle cx="1685.15" cy="399.53" r="8.5" fill="#000000"/>
<circle cx="1716.15" cy="390" r="8.5" fill="#000000"/>
<circle cx="1705.15" cy="399.98" r="8.5" fill="#000000"/>
<circle cx="1685.15" cy="426.77" r="8.5" fill="#000000"/>
<circle cx="1705.15" cy="427.9" r="8.5" fill="#000000"/>
<circle cx="1719.15" cy="419.96" r="8.5" fill="#000000"/>
<circle cx="1757.5" cy="629.25" r="8.5" fill="#a97a2c"/>
<circle cx="1780.5" cy="625.39" r="8.5" fill="#a97a2c"/>
<circle cx="1788.5" cy="637.43" r="8.5" fill="#a97a2c"/>
<circle cx="1778.5" cy="646.96" r="8.5" fill="#a97a2c"/>
<circle cx="1766.5" cy="664.44" r="8.5" fill="#a97a2c"/>
<circle cx="1758.5" cy="635.61" r="8.5" fill="#a97a2c"/>
<circle cx="1845.85" cy="623.81" r="8.5" fill="#031a9a"/>
<circle cx="1833.85" cy="634.02" r="8.5" fill="#031a9a"/>
<circle cx="1861.85" cy="637.88" r="8.5" fill="#031a9a"/>
<circle cx="1828.85" cy="646.96" r="8.5" fill="#031a9a"/>
<circle cx="1853.85" cy="651.73" r="8.5" fill="#031a9a"/>
<circle cx="1842.85" cy="642.42" r="8.5" fill="#031a9a"/>
<circle cx="1903.2" cy="597.47" r="8.5" fill="#7a176b"/>
<circle cx="1926.2" cy="595.66" r="8.5" fill="#7a176b"/>
<circle cx="1933.2" cy="611.55" r="8.5" fill="#7a176b"/>
<circle cx="1910.2" cy="612.91" r="8.5" fill="#7a176b"/>
<circle cx="1926.2" cy="627.66" r="8.5" fill="#7a176b"/>
<circle cx="1918.2" cy="645.6" r="8.5" fill="#7a176b"/>
<line x1="1288" y1="742.3" x2="1967" y2="742.3" stroke="#141414" stroke-width="4.4" stroke-linecap="butt"/>
<line x1="1339.4" y1="742.3" x2="1339.4" y2="760" stroke="#141414" stroke-width="4" stroke-linecap="butt"/>
<line x1="1411.75" y1="742.3" x2="1411.75" y2="760" stroke="#141414" stroke-width="4" stroke-linecap="butt"/>
<line x1="1484.1" y1="742.3" x2="1484.1" y2="760" stroke="#141414" stroke-width="4" stroke-linecap="butt"/>
<line x1="1556.45" y1="742.3" x2="1556.45" y2="760" stroke="#141414" stroke-width="4" stroke-linecap="butt"/>
<line x1="1628.8" y1="742.3" x2="1628.8" y2="760" stroke="#141414" stroke-width="4" stroke-linecap="butt"/>
<line x1="1701.15" y1="742.3" x2="1701.15" y2="760" stroke="#141414" stroke-width="4" stroke-linecap="butt"/>
<line x1="1773.5" y1="742.3" x2="1773.5" y2="760" stroke="#141414" stroke-width="4" stroke-linecap="butt"/>
<line x1="1845.85" y1="742.3" x2="1845.85" y2="760" stroke="#141414" stroke-width="4" stroke-linecap="butt"/>
<line x1="1918.2" y1="742.3" x2="1918.2" y2="760" stroke="#141414" stroke-width="4" stroke-linecap="butt"/>
</g>
<text x="1225.3" y="162" font-size="74" text-anchor="middle" fill="#000">B</text>
<text transform="translate(1178.6 553.8) rotate(-90)" font-size="37" text-anchor="middle" fill="#000">OCR pmoles/min/µg</text>
<text x="1344.6" y="803.2" font-size="37" text-anchor="middle" fill="#000">nil</text>
<text x="1411.7" y="803.2" font-size="37" text-anchor="middle" fill="#000">Scr</text>
<text x="1483.4" y="803.2" font-size="37" text-anchor="middle" fill="#000">SS</text>
<text x="1567.6" y="803.2" font-size="37" text-anchor="middle" fill="#000">nil</text>
<text x="1634.6" y="803.2" font-size="37" text-anchor="middle" fill="#000">Scr</text>
<text x="1706.5" y="803.2" font-size="37" text-anchor="middle" fill="#000">SS</text>
<text x="1780.3" y="803.2" font-size="37" text-anchor="middle" fill="#000">nil</text>
<text x="1858" y="803.2" font-size="37" text-anchor="middle" fill="#000">Scr</text>
<text x="1929.5" y="803.2" font-size="37" text-anchor="middle" fill="#000">SS</text>
<rect x="1368.8" y="836.8" width="150.4" height="6.6" fill="#000"/>
<rect x="1565.6" y="836.8" width="149.7" height="6.6" fill="#000"/>
<rect x="1773.6" y="836.8" width="149.6" height="6.6" fill="#000"/>
<text x="1449.5" y="890.8" font-size="37" text-anchor="middle" fill="#000">WT</text>
<text x="1632.2" y="890.8" font-size="37" text-anchor="middle" fill="#000">Taz</text>
<text x="1849.2" y="890.8" font-size="37" text-anchor="middle" fill="#000">TazH</text>
<text x="1533.9" y="27.3" font-size="37" text-anchor="middle" fill="#000">p=0.003</text>
<text x="1647.9" y="143.1" font-size="37" text-anchor="middle" fill="#000">p=0.004</text>
<text x="1432.9" y="252.3" font-size="37" text-anchor="middle" fill="#000">p=0.005</text>
<text x="1617" y="254.8" font-size="37" text-anchor="middle" fill="#000">p=&gt;0.05</text>
<text x="1821.3" y="259" font-size="37" text-anchor="middle" fill="#000">p=0.013</text>
<text x="1411.9" y="354" font-size="37" text-anchor="middle" fill="#000">p=&gt;0.05</text>
<text x="1805.2" y="551.7" font-size="37" text-anchor="middle" fill="#000">p=0.91</text>
<g filter="url(#soft)">
<path d="M1321.45 72 V48 H1761.55 V72" fill="none" stroke="#0a0a0a" stroke-width="5.5" stroke-linejoin="miter"/>
<path d="M1551.75 177 V152.5 H1764.15 V177" fill="none" stroke="#0a0a0a" stroke-width="5.5" stroke-linejoin="miter"/>
<path d="M1322.75 297.5 V273 H1528.25 V297.5" fill="none" stroke="#0a0a0a" stroke-width="5.5" stroke-linejoin="miter"/>
<path d="M1551.25 303.5 V274.5 H1693.25 V303.5" fill="none" stroke="#0a0a0a" stroke-width="5.5" stroke-linejoin="miter"/>
<path d="M1749.25 298 V273 H1910.75 V298" fill="none" stroke="#0a0a0a" stroke-width="5.5" stroke-linejoin="miter"/>
<path d="M1333.25 394 V368.5 H1464.75 V394" fill="none" stroke="#0a0a0a" stroke-width="5.5" stroke-linejoin="miter"/>
<path d="M1773.15 589 V565 H1830.95 V589" fill="none" stroke="#0a0a0a" stroke-width="5.5" stroke-linejoin="miter"/>
</g>
<g filter="url(#soft)">
<line x1="245.8" y1="1125.8" x2="245.8" y2="1627.8" stroke="#141414" stroke-width="4" stroke-linecap="butt"/>
<line x1="225.9" y1="1625.8" x2="245.8" y2="1625.8" stroke="#141414" stroke-width="4" stroke-linecap="butt"/>
<text x="215.8" y="1642.2" font-size="38" font-weight="bold" text-anchor="end" fill="#050505">0</text>
<line x1="225.9" y1="1526.2" x2="245.8" y2="1526.2" stroke="#141414" stroke-width="4" stroke-linecap="butt"/>
<text x="215.8" y="1542.6" font-size="38" font-weight="bold" text-anchor="end" fill="#050505">20000</text>
<line x1="225.9" y1="1426.6" x2="245.8" y2="1426.6" stroke="#141414" stroke-width="4" stroke-linecap="butt"/>
<text x="215.8" y="1443" font-size="38" font-weight="bold" text-anchor="end" fill="#050505">40000</text>
<line x1="225.9" y1="1327" x2="245.8" y2="1327" stroke="#141414" stroke-width="4" stroke-linecap="butt"/>
<text x="215.8" y="1343.4" font-size="38" font-weight="bold" text-anchor="end" fill="#050505">60000</text>
<line x1="225.9" y1="1227.4" x2="245.8" y2="1227.4" stroke="#141414" stroke-width="4" stroke-linecap="butt"/>
<text x="215.8" y="1243.8" font-size="38" font-weight="bold" text-anchor="end" fill="#050505">80000</text>
<line x1="225.9" y1="1127.8" x2="245.8" y2="1127.8" stroke="#141414" stroke-width="4" stroke-linecap="butt"/>
<text x="215.8" y="1144.2" font-size="38" font-weight="bold" text-anchor="end" fill="#050505">100000</text>
<path d="M276 1625.8 V1407.69 H322 V1625.8" fill="#8399ff" stroke="#1438ff" stroke-width="6"/>
<path d="M355.55 1625.8 V1409.68 H401.55 V1625.8" fill="#ff9480" stroke="#ff2a00" stroke-width="6"/>
<path d="M435.1 1625.8 V1419.64 H481.1 V1625.8" fill="url(#hatchG)" stroke="#0cc40c" stroke-width="6"/>
<path d="M514.65 1625.8 V1527.21 H560.65 V1625.8" fill="#df9cf4" stroke="#c03ae8" stroke-width="6"/>
<path d="M594.2 1625.8 V1508.78 H640.2 V1625.8" fill="#ffc880" stroke="#ff9300" stroke-width="6"/>
<path d="M673.75 1625.8 V1507.29 H719.75 V1625.8" fill="#808080" stroke="#000000" stroke-width="6"/>
<path d="M753.3 1625.8 V1302.11 H799.3 V1625.8" fill="#d4bc93" stroke="#a97a2c" stroke-width="6"/>
<path d="M832.85 1625.8 V1315.56 H878.85 V1625.8" fill="#8090cb" stroke="#031a9a" stroke-width="6"/>
<path d="M912.4 1625.8 V1367.35 H958.4 V1625.8" fill="#bd8bb5" stroke="#7a176b" stroke-width="6"/>
<line x1="299" y1="1391.74" x2="299" y2="1404.69" stroke="#1438ff" stroke-width="2.5" stroke-linecap="butt"/>
<line x1="285" y1="1391.74" x2="313" y2="1391.74" stroke="#1438ff" stroke-width="2.5" stroke-linecap="butt"/>
<line x1="378.55" y1="1394.23" x2="378.55" y2="1406.68" stroke="#ff2a00" stroke-width="2.5" stroke-linecap="butt"/>
<line x1="364.55" y1="1394.23" x2="392.55" y2="1394.23" stroke="#ff2a00" stroke-width="2.5" stroke-linecap="butt"/>
<line x1="458.1" y1="1401.7" x2="458.1" y2="1416.64" stroke="#0cc40c" stroke-width="2.5" stroke-linecap="butt"/>
<line x1="444.1" y1="1401.7" x2="472.1" y2="1401.7" stroke="#0cc40c" stroke-width="2.5" stroke-linecap="butt"/>
<line x1="537.65" y1="1507.28" x2="537.65" y2="1524.21" stroke="#c03ae8" stroke-width="2.5" stroke-linecap="butt"/>
<line x1="523.65" y1="1507.28" x2="551.65" y2="1507.28" stroke="#c03ae8" stroke-width="2.5" stroke-linecap="butt"/>
<line x1="617.2" y1="1478.39" x2="617.2" y2="1505.78" stroke="#ff9300" stroke-width="2.5" stroke-linecap="butt"/>
<line x1="603.2" y1="1478.39" x2="631.2" y2="1478.39" stroke="#ff9300" stroke-width="2.5" stroke-linecap="butt"/>
<line x1="696.75" y1="1481.38" x2="696.75" y2="1522.71" stroke="#000000" stroke-width="2.5" stroke-linecap="butt"/>
<line x1="682.75" y1="1481.38" x2="710.75" y2="1481.38" stroke="#000000" stroke-width="2.5" stroke-linecap="butt"/>
<line x1="682.75" y1="1522.71" x2="710.75" y2="1522.71" stroke="#000000" stroke-width="2.5" stroke-linecap="butt"/>
<line x1="776.3" y1="1285.17" x2="776.3" y2="1299.11" stroke="#a97a2c" stroke-width="2.5" stroke-linecap="butt"/>
<line x1="762.3" y1="1285.17" x2="790.3" y2="1285.17" stroke="#a97a2c" stroke-width="2.5" stroke-linecap="butt"/>
<line x1="855.85" y1="1283.67" x2="855.85" y2="1335.47" stroke="#031a9a" stroke-width="2.5" stroke-linecap="butt"/>
<line x1="841.85" y1="1283.67" x2="869.85" y2="1283.67" stroke="#031a9a" stroke-width="2.5" stroke-linecap="butt"/>
<line x1="841.85" y1="1335.47" x2="869.85" y2="1335.47" stroke="#031a9a" stroke-width="2.5" stroke-linecap="butt"/>
<line x1="935.4" y1="1349.41" x2="935.4" y2="1364.35" stroke="#7a176b" stroke-width="2.5" stroke-linecap="butt"/>
<line x1="921.4" y1="1349.41" x2="949.4" y2="1349.41" stroke="#7a176b" stroke-width="2.5" stroke-linecap="butt"/>
<circle cx="299" cy="1344.93" r="9.5" fill="#1438ff"/>
<circle cx="282" cy="1391.74" r="9.5" fill="#1438ff"/>
<circle cx="316" cy="1391.74" r="9.5" fill="#1438ff"/>
<circle cx="299" cy="1396.72" r="9.5" fill="#1438ff"/>
<circle cx="299" cy="1421.62" r="9.5" fill="#1438ff"/>
<circle cx="299" cy="1461.46" r="9.5" fill="#1438ff"/>
<rect x="369.05" y="1366.3" width="19" height="19" fill="#ff2a00"/>
<rect x="386.05" y="1371.78" width="19" height="19" fill="#ff2a00"/>
<rect x="351.05" y="1382.24" width="19" height="19" fill="#ff2a00"/>
<rect x="369.05" y="1389.21" width="19" height="19" fill="#ff2a00"/>
<rect x="386.05" y="1397.68" width="19" height="19" fill="#ff2a00"/>
<rect x="369.05" y="1409.63" width="19" height="19" fill="#ff2a00"/>
<rect x="369.05" y="1450.96" width="19" height="19" fill="#ff2a00"/>
<path d="M448.1 1365.32 L455.7 1382.8 L440.5 1382.8 Z" fill="#0cc40c"/>
<path d="M467.1 1372.29 L474.7 1389.77 L459.5 1389.77 Z" fill="#0cc40c"/>
<path d="M441.1 1401.17 L448.7 1418.65 L433.5 1418.65 Z" fill="#0cc40c"/>
<path d="M463.1 1411.13 L470.7 1428.61 L455.5 1428.61 Z" fill="#0cc40c"/>
<path d="M458.1 1426.07 L465.7 1443.55 L450.5 1443.55 Z" fill="#0cc40c"/>
<path d="M458.1 1436.03 L465.7 1453.51 L450.5 1453.51 Z" fill="#0cc40c"/>
<circle cx="537.65" cy="1465.44" r="9.5" fill="#c03ae8"/>
<circle cx="537.65" cy="1502.79" r="9.5" fill="#c03ae8"/>
<circle cx="520.65" cy="1521.22" r="9.5" fill="#c03ae8"/>
<circle cx="554.65" cy="1526.2" r="9.5" fill="#c03ae8"/>
<circle cx="537.65" cy="1534.17" r="9.5" fill="#c03ae8"/>
<circle cx="537.65" cy="1580.48" r="9.5" fill="#c03ae8"/>
<circle cx="617.2" cy="1399.21" r="9.5" fill="#ff9300"/>
<circle cx="617.2" cy="1473.91" r="9.5" fill="#ff9300"/>
<circle cx="617.2" cy="1499.81" r="9.5" fill="#ff9300"/>
<circle cx="600.2" cy="1530.18" r="9.5" fill="#ff9300"/>
<circle cx="634.2" cy="1530.18" r="9.5" fill="#ff9300"/>
<circle cx="617.2" cy="1578.99" r="9.5" fill="#ff9300"/>
<circle cx="696.75" cy="1410.66" r="9.5" fill="#000000"/>
<circle cx="680.75" cy="1502.79" r="9.5" fill="#000000"/>
<circle cx="696.75" cy="1503.79" r="9.5" fill="#000000"/>
<circle cx="712.75" cy="1508.27" r="9.5" fill="#000000"/>
<circle cx="701.75" cy="1511.26" r="9.5" fill="#000000"/>
<circle cx="696.75" cy="1575" r="9.5" fill="#000000"/>
<circle cx="776.3" cy="1244.33" r="9.5" fill="#a97a2c"/>
<circle cx="776.3" cy="1285.17" r="9.5" fill="#a97a2c"/>
<circle cx="761.3" cy="1302.1" r="9.5" fill="#a97a2c"/>
<circle cx="791.3" cy="1307.08" r="9.5" fill="#a97a2c"/>
<circle cx="761.3" cy="1317.04" r="9.5" fill="#a97a2c"/>
<circle cx="784.3" cy="1319.03" r="9.5" fill="#a97a2c"/>
<circle cx="855.85" cy="1215.45" r="9.5" fill="#031a9a"/>
<circle cx="855.85" cy="1274.71" r="9.5" fill="#031a9a"/>
<circle cx="872.85" cy="1312.56" r="9.5" fill="#031a9a"/>
<circle cx="838.85" cy="1317.04" r="9.5" fill="#031a9a"/>
<circle cx="872.85" cy="1335.47" r="9.5" fill="#031a9a"/>
<circle cx="855.85" cy="1398.21" r="9.5" fill="#031a9a"/>
<circle cx="935.4" cy="1316.04" r="9.5" fill="#7a176b"/>
<circle cx="935.4" cy="1343.43" r="9.5" fill="#7a176b"/>
<circle cx="918.4" cy="1355.39" r="9.5" fill="#7a176b"/>
<circle cx="935.4" cy="1370.82" r="9.5" fill="#7a176b"/>
<circle cx="952.4" cy="1370.82" r="9.5" fill="#7a176b"/>
<circle cx="935.4" cy="1407.18" r="9.5" fill="#7a176b"/>
<line x1="243.8" y1="1625.8" x2="992" y2="1625.8" stroke="#141414" stroke-width="4.4" stroke-linecap="butt"/>
<line x1="299" y1="1625.8" x2="299" y2="1644" stroke="#141414" stroke-width="4" stroke-linecap="butt"/>
<line x1="378.55" y1="1625.8" x2="378.55" y2="1644" stroke="#141414" stroke-width="4" stroke-linecap="butt"/>
<line x1="458.1" y1="1625.8" x2="458.1" y2="1644" stroke="#141414" stroke-width="4" stroke-linecap="butt"/>
<line x1="537.65" y1="1625.8" x2="537.65" y2="1644" stroke="#141414" stroke-width="4" stroke-linecap="butt"/>
<line x1="617.2" y1="1625.8" x2="617.2" y2="1644" stroke="#141414" stroke-width="4" stroke-linecap="butt"/>
<line x1="696.75" y1="1625.8" x2="696.75" y2="1644" stroke="#141414" stroke-width="4" stroke-linecap="butt"/>
<line x1="776.3" y1="1625.8" x2="776.3" y2="1644" stroke="#141414" stroke-width="4" stroke-linecap="butt"/>
<line x1="855.85" y1="1625.8" x2="855.85" y2="1644" stroke="#141414" stroke-width="4" stroke-linecap="butt"/>
<line x1="935.4" y1="1625.8" x2="935.4" y2="1644" stroke="#141414" stroke-width="4" stroke-linecap="butt"/>
</g>
<text x="106.7" y="991.5" font-size="74" text-anchor="middle" fill="#000">C</text>
<text transform="translate(27.1 1354.2) rotate(-90)" font-size="37" text-anchor="middle" fill="#000">mitoSOX mean fluorescence intensity</text>
<text transform="translate(71 1359.3) rotate(-90)" font-size="37" text-anchor="middle" fill="#000">(arb. units)</text>
<text x="318.7" y="1689.2" font-size="37" text-anchor="middle" fill="#000">nil</text>
<text x="395.7" y="1689.2" font-size="37" text-anchor="middle" fill="#000">Scr</text>
<text x="457.9" y="1689.2" font-size="37" text-anchor="middle" fill="#000">SS</text>
<text x="551.4" y="1689.2" font-size="37" text-anchor="middle" fill="#000">nil</text>
<text x="628.9" y="1689.2" font-size="37" text-anchor="middle" fill="#000">Scr</text>
<text x="700.8" y="1689.2" font-size="37" text-anchor="middle" fill="#000">SS</text>
<text x="774.6" y="1689.2" font-size="37" text-anchor="middle" fill="#000">nil</text>
<text x="852.3" y="1689.2" font-size="37" text-anchor="middle" fill="#000">Scr</text>
<text x="934" y="1689.2" font-size="37" text-anchor="middle" fill="#000">SS</text>
<rect x="323.4" y="1704.6" width="149" height="7.6" fill="#000"/>
<rect x="538.4" y="1704.6" width="165" height="7.6" fill="#000"/>
<rect x="771.6" y="1704.6" width="161.9" height="7.6" fill="#000"/>
<text x="397.9" y="1759" font-size="37" text-anchor="middle" fill="#000">WT</text>
<text x="620.9" y="1759" font-size="37" text-anchor="middle" fill="#000">Taz</text>
<text x="848" y="1759" font-size="37" text-anchor="middle" fill="#000">TazH</text>
<text x="556.1" y="1022.6" font-size="37" text-anchor="middle" fill="#000">p=0.0009</text>
<text x="836.4" y="1021" font-size="37" text-anchor="middle" fill="#000">p=0.0084</text>
<text x="834.1" y="1132.4" font-size="37" text-anchor="middle" fill="#000">p=0.65</text>
<text x="428.4" y="1176.5" font-size="37" text-anchor="middle" fill="#000">p=0.0012</text>
<text x="652" y="1175" font-size="37" text-anchor="middle" fill="#000">p=0.0005</text>
<text x="391.1" y="1273.6" font-size="37" text-anchor="middle" fill="#000">p=&gt;0.05</text>
<text x="629.2" y="1304.4" font-size="37" text-anchor="middle" fill="#000">p=&gt;0.05</text>
<g filter="url(#soft)">
<path d="M298.55 1058.9 V1031.4 H750.55 V1058.9" fill="none" stroke="#0a0a0a" stroke-width="5.5" stroke-linejoin="miter"/>
<path d="M763.25 1058 V1031.4 H931.85 V1058" fill="none" stroke="#0a0a0a" stroke-width="5.5" stroke-linejoin="miter"/>
<path d="M784.65 1184.3 V1158.4 H855.25 V1184.3" fill="none" stroke="#0a0a0a" stroke-width="5.5" stroke-linejoin="miter"/>
<path d="M298.55 1211 V1185.3 H519.95 V1211" fill="none" stroke="#0a0a0a" stroke-width="5.5" stroke-linejoin="miter"/>
<path d="M543.55 1211 V1185.3 H760.85 V1211" fill="none" stroke="#0a0a0a" stroke-width="5.5" stroke-linejoin="miter"/>
<path d="M296.05 1315.3 V1290.2 H450.25 V1315.3" fill="none" stroke="#0a0a0a" stroke-width="5.5" stroke-linejoin="miter"/>
<path d="M537.75 1349.8 V1324.8 H692.65 V1349.8" fill="none" stroke="#0a0a0a" stroke-width="5.5" stroke-linejoin="miter"/>
</g>
<g filter="url(#soft)">
<line x1="1184.7" y1="1128.2" x2="1184.7" y2="1626.9" stroke="#141414" stroke-width="4" stroke-linecap="butt"/>
<line x1="1164.7" y1="1624.9" x2="1184.7" y2="1624.9" stroke="#141414" stroke-width="4" stroke-linecap="butt"/>
<text x="1154.2" y="1638.93" font-size="35" font-weight="bold" text-anchor="end" fill="#050505">0</text>
<line x1="1164.7" y1="1460" x2="1184.7" y2="1460" stroke="#141414" stroke-width="4" stroke-linecap="butt"/>
<text x="1154.2" y="1474.03" font-size="35" font-weight="bold" text-anchor="end" fill="#050505">10</text>
<line x1="1164.7" y1="1295.1" x2="1184.7" y2="1295.1" stroke="#141414" stroke-width="4" stroke-linecap="butt"/>
<text x="1154.2" y="1309.13" font-size="35" font-weight="bold" text-anchor="end" fill="#050505">20</text>
<line x1="1164.7" y1="1130.2" x2="1184.7" y2="1130.2" stroke="#141414" stroke-width="4" stroke-linecap="butt"/>
<text x="1154.2" y="1144.23" font-size="35" font-weight="bold" text-anchor="end" fill="#050505">30</text>
<path d="M1215.1 1624.9 V1370.66 H1260.1 V1624.9" fill="#8399ff" stroke="#1438ff" stroke-width="6"/>
<path d="M1294.2 1624.9 V1378.9 H1339.2 V1624.9" fill="#ff9480" stroke="#ff2a00" stroke-width="6"/>
<path d="M1373.3 1624.9 V1367.36 H1418.3 V1624.9" fill="url(#hatchG)" stroke="#0cc40c" stroke-width="6"/>
<path d="M1452.4 1624.9 V1441.56 H1497.4 V1624.9" fill="#df9cf4" stroke="#c03ae8" stroke-width="6"/>
<path d="M1531.5 1624.9 V1441.56 H1576.5 V1624.9" fill="#ffc880" stroke="#ff9300" stroke-width="6"/>
<path d="M1610.6 1624.9 V1444.86 H1655.6 V1624.9" fill="#808080" stroke="#000000" stroke-width="6"/>
<path d="M1689.7 1624.9 V1282.1 H1734.7 V1624.9" fill="#d4bc93" stroke="#a97a2c" stroke-width="6"/>
<path d="M1768.8 1624.9 V1306.35 H1813.8 V1624.9" fill="#8090cb" stroke="#031a9a" stroke-width="6"/>
<path d="M1847.9 1624.9 V1381.04 H1892.9 V1624.9" fill="#bd8bb5" stroke="#7a176b" stroke-width="6"/>
<line x1="1237.6" y1="1358.59" x2="1237.6" y2="1367.66" stroke="#1438ff" stroke-width="2.5" stroke-linecap="butt"/>
<line x1="1224.6" y1="1358.59" x2="1250.6" y2="1358.59" stroke="#1438ff" stroke-width="2.5" stroke-linecap="butt"/>
<line x1="1316.7" y1="1367.66" x2="1316.7" y2="1375.9" stroke="#ff2a00" stroke-width="2.5" stroke-linecap="butt"/>
<line x1="1303.7" y1="1367.66" x2="1329.7" y2="1367.66" stroke="#ff2a00" stroke-width="2.5" stroke-linecap="butt"/>
<line x1="1395.8" y1="1347.04" x2="1395.8" y2="1364.36" stroke="#0cc40c" stroke-width="2.5" stroke-linecap="butt"/>
<line x1="1382.8" y1="1347.04" x2="1408.8" y2="1347.04" stroke="#0cc40c" stroke-width="2.5" stroke-linecap="butt"/>
<line x1="1474.9" y1="1420.42" x2="1474.9" y2="1438.56" stroke="#c03ae8" stroke-width="2.5" stroke-linecap="butt"/>
<line x1="1461.9" y1="1420.42" x2="1487.9" y2="1420.42" stroke="#c03ae8" stroke-width="2.5" stroke-linecap="butt"/>
<line x1="1554" y1="1417.13" x2="1554" y2="1438.56" stroke="#ff9300" stroke-width="2.5" stroke-linecap="butt"/>
<line x1="1541" y1="1417.13" x2="1567" y2="1417.13" stroke="#ff9300" stroke-width="2.5" stroke-linecap="butt"/>
<line x1="1633.1" y1="1428.67" x2="1633.1" y2="1441.86" stroke="#000000" stroke-width="2.5" stroke-linecap="butt"/>
<line x1="1620.1" y1="1428.67" x2="1646.1" y2="1428.67" stroke="#000000" stroke-width="2.5" stroke-linecap="butt"/>
<line x1="1712.2" y1="1253.88" x2="1712.2" y2="1279.1" stroke="#a97a2c" stroke-width="2.5" stroke-linecap="butt"/>
<line x1="1699.2" y1="1253.88" x2="1725.2" y2="1253.88" stroke="#a97a2c" stroke-width="2.5" stroke-linecap="butt"/>
<line x1="1791.3" y1="1276.96" x2="1791.3" y2="1336.33" stroke="#031a9a" stroke-width="2.5" stroke-linecap="butt"/>
<line x1="1778.3" y1="1276.96" x2="1804.3" y2="1276.96" stroke="#031a9a" stroke-width="2.5" stroke-linecap="butt"/>
<line x1="1778.3" y1="1336.33" x2="1804.3" y2="1336.33" stroke="#031a9a" stroke-width="2.5" stroke-linecap="butt"/>
<line x1="1870.4" y1="1361.06" x2="1870.4" y2="1378.04" stroke="#7a176b" stroke-width="2.5" stroke-linecap="butt"/>
<line x1="1857.4" y1="1361.06" x2="1883.4" y2="1361.06" stroke="#7a176b" stroke-width="2.5" stroke-linecap="butt"/>
<circle cx="1237.6" cy="1334.68" r="9.25" fill="#1438ff"/>
<circle cx="1254.6" cy="1349.52" r="9.25" fill="#1438ff"/>
<circle cx="1220.6" cy="1367.66" r="9.25" fill="#1438ff"/>
<circle cx="1254.6" cy="1369.31" r="9.25" fill="#1438ff"/>
<circle cx="1237.6" cy="1382.5" r="9.25" fill="#1438ff"/>
<circle cx="1237.6" cy="1400.64" r="9.25" fill="#1438ff"/>
<rect x="1307.45" y="1327.08" width="18.5" height="18.5" fill="#ff2a00"/>
<rect x="1290.45" y="1360.06" width="18.5" height="18.5" fill="#ff2a00"/>
<rect x="1307.45" y="1381.49" width="18.5" height="18.5" fill="#ff2a00"/>
<rect x="1290.45" y="1399.63" width="18.5" height="18.5" fill="#ff2a00"/>
<rect x="1324.45" y="1399.63" width="18.5" height="18.5" fill="#ff2a00"/>
<rect x="1324.45" y="1376.55" width="18.5" height="18.5" fill="#ff2a00"/>
<path d="M1395.8 1281.59 L1403.2 1298.61 L1388.4 1298.61 Z" fill="#0cc40c"/>
<path d="M1395.8 1349.2 L1403.2 1366.22 L1388.4 1366.22 Z" fill="#0cc40c"/>
<path d="M1411.8 1350.85 L1419.2 1367.87 L1404.4 1367.87 Z" fill="#0cc40c"/>
<path d="M1385.8 1359.09 L1393.2 1376.11 L1378.4 1376.11 Z" fill="#0cc40c"/>
<path d="M1385.8 1370.64 L1393.2 1387.66 L1378.4 1387.66 Z" fill="#0cc40c"/>
<path d="M1405.8 1364.04 L1413.2 1381.06 L1398.4 1381.06 Z" fill="#0cc40c"/>
<circle cx="1482.9" cy="1385.8" r="9.25" fill="#c03ae8"/>
<circle cx="1466.9" cy="1392.39" r="9.25" fill="#c03ae8"/>
<circle cx="1457.9" cy="1473.19" r="9.25" fill="#c03ae8"/>
<circle cx="1491.9" cy="1463.3" r="9.25" fill="#c03ae8"/>
<circle cx="1474.9" cy="1451.76" r="9.25" fill="#c03ae8"/>
<circle cx="1474.9" cy="1443.51" r="9.25" fill="#c03ae8"/>
<circle cx="1537" cy="1385.8" r="9.25" fill="#ff9300"/>
<circle cx="1571" cy="1382.5" r="9.25" fill="#ff9300"/>
<circle cx="1537" cy="1492.98" r="9.25" fill="#ff9300"/>
<circle cx="1571" cy="1473.19" r="9.25" fill="#ff9300"/>
<circle cx="1554" cy="1443.51" r="9.25" fill="#ff9300"/>
<circle cx="1554" cy="1456.7" r="9.25" fill="#ff9300"/>
<circle cx="1616.1" cy="1407.23" r="9.25" fill="#000000"/>
<circle cx="1650.1" cy="1403.93" r="9.25" fill="#000000"/>
<circle cx="1633.1" cy="1425.37" r="9.25" fill="#000000"/>
<circle cx="1650.1" cy="1460" r="9.25" fill="#000000"/>
<circle cx="1633.1" cy="1497.93" r="9.25" fill="#000000"/>
<circle cx="1616.1" cy="1446.81" r="9.25" fill="#000000"/>
<circle cx="1712.2" cy="1168.13" r="9.25" fill="#a97a2c"/>
<circle cx="1695.2" cy="1267.07" r="9.25" fill="#a97a2c"/>
<circle cx="1712.2" cy="1286.86" r="9.25" fill="#a97a2c"/>
<circle cx="1695.2" cy="1326.43" r="9.25" fill="#a97a2c"/>
<circle cx="1729.2" cy="1318.19" r="9.25" fill="#a97a2c"/>
<circle cx="1729.2" cy="1295.1" r="9.25" fill="#a97a2c"/>
<circle cx="1791.3" cy="1179.67" r="9.25" fill="#031a9a"/>
<circle cx="1774.3" cy="1304.99" r="9.25" fill="#031a9a"/>
<circle cx="1808.3" cy="1304.99" r="9.25" fill="#031a9a"/>
<circle cx="1791.3" cy="1352.82" r="9.25" fill="#031a9a"/>
<circle cx="1791.3" cy="1390.74" r="9.25" fill="#031a9a"/>
<circle cx="1791.3" cy="1311.59" r="9.25" fill="#031a9a"/>
<circle cx="1870.4" cy="1293.45" r="9.25" fill="#7a176b"/>
<circle cx="1870.4" cy="1356.11" r="9.25" fill="#7a176b"/>
<circle cx="1853.4" cy="1412.18" r="9.25" fill="#7a176b"/>
<circle cx="1887.4" cy="1412.18" r="9.25" fill="#7a176b"/>
<circle cx="1870.4" cy="1385.8" r="9.25" fill="#7a176b"/>
<circle cx="1855.4" cy="1377.55" r="9.25" fill="#7a176b"/>
<line x1="1182.7" y1="1624.9" x2="1927" y2="1624.9" stroke="#141414" stroke-width="4.4" stroke-linecap="butt"/>
<line x1="1237.6" y1="1624.9" x2="1237.6" y2="1645" stroke="#141414" stroke-width="4" stroke-linecap="butt"/>
<line x1="1316.7" y1="1624.9" x2="1316.7" y2="1645" stroke="#141414" stroke-width="4" stroke-linecap="butt"/>
<line x1="1395.8" y1="1624.9" x2="1395.8" y2="1645" stroke="#141414" stroke-width="4" stroke-linecap="butt"/>
<line x1="1474.9" y1="1624.9" x2="1474.9" y2="1645" stroke="#141414" stroke-width="4" stroke-linecap="butt"/>
<line x1="1554" y1="1624.9" x2="1554" y2="1645" stroke="#141414" stroke-width="4" stroke-linecap="butt"/>
<line x1="1633.1" y1="1624.9" x2="1633.1" y2="1645" stroke="#141414" stroke-width="4" stroke-linecap="butt"/>
<line x1="1712.2" y1="1624.9" x2="1712.2" y2="1645" stroke="#141414" stroke-width="4" stroke-linecap="butt"/>
<line x1="1791.3" y1="1624.9" x2="1791.3" y2="1645" stroke="#141414" stroke-width="4" stroke-linecap="butt"/>
<line x1="1870.4" y1="1624.9" x2="1870.4" y2="1645" stroke="#141414" stroke-width="4" stroke-linecap="butt"/>
</g>
<text x="1100.5" y="988.8" font-size="74" text-anchor="middle" fill="#000">D</text>
<text transform="translate(1095.3 1354.8) rotate(-90)" font-size="37" text-anchor="middle" fill="#000">% annexin V positive</text>
<text x="1244.9" y="1688" font-size="37" text-anchor="middle" fill="#000">nil</text>
<text x="1322.6" y="1688" font-size="37" text-anchor="middle" fill="#000">Scr</text>
<text x="1404.8" y="1688" font-size="37" text-anchor="middle" fill="#000">SS</text>
<text x="1478.2" y="1688" font-size="37" text-anchor="middle" fill="#000">nil</text>
<text x="1565.8" y="1688" font-size="37" text-anchor="middle" fill="#000">Scr</text>
<text x="1637.6" y="1688" font-size="37" text-anchor="middle" fill="#000">SS</text>
<text x="1711.5" y="1688" font-size="37" text-anchor="middle" fill="#000">nil</text>
<text x="1799.2" y="1688" font-size="37" text-anchor="middle" fill="#000">Scr</text>
<text x="1891.7" y="1688" font-size="37" text-anchor="middle" fill="#000">SS</text>
<rect x="1216.3" y="1703.3" width="192" height="7.4" fill="#000"/>
<rect x="1459.4" y="1703.3" width="191.9" height="7.4" fill="#000"/>
<rect x="1711" y="1703.3" width="191.9" height="7.4" fill="#000"/>
<text x="1344.6" y="1767.6" font-size="37" text-anchor="middle" fill="#000">WT</text>
<text x="1568.2" y="1767.6" font-size="37" text-anchor="middle" fill="#000">Taz</text>
<text x="1795.4" y="1767.6" font-size="37" text-anchor="middle" fill="#000">TazH</text>
<text x="1470.1" y="1007.6" font-size="37" text-anchor="middle" fill="#000">p=0.017</text>
<text x="1804.8" y="1006" font-size="37" text-anchor="middle" fill="#000">p=0.018</text>
<text x="1353.2" y="1097.4" font-size="37" text-anchor="middle" fill="#000">p=0.014</text>
<text x="1591.1" y="1094.7" font-size="37" text-anchor="middle" fill="#000">p=0.001</text>
<text x="1773.9" y="1094.7" font-size="37" text-anchor="middle" fill="#000">p=0.44</text>
<text x="1316" y="1207" font-size="37" text-anchor="middle" fill="#000">p=&gt;0.05</text>
<text x="1562.9" y="1266" font-size="37" text-anchor="middle" fill="#000">p=&gt;0.05</text>
<g filter="url(#soft)">
<path d="M1238.45 1060 V1032.8 H1696.85 V1060" fill="none" stroke="#0a0a0a" stroke-width="5.5" stroke-linejoin="miter"/>
<path d="M1712.25 1060 V1032.8 H1867.95 V1060" fill="none" stroke="#0a0a0a" stroke-width="5.5" stroke-linejoin="miter"/>
<path d="M1238.45 1142.5 V1118 H1474.85 V1142.5" fill="none" stroke="#0a0a0a" stroke-width="5.5" stroke-linejoin="miter"/>
<path d="M1491.35 1142.5 V1118 H1695.65 V1142.5" fill="none" stroke="#0a0a0a" stroke-width="5.5" stroke-linejoin="miter"/>
<path d="M1712.15 1147 V1118 H1791.55 V1147" fill="none" stroke="#0a0a0a" stroke-width="5.5" stroke-linejoin="miter"/>
<path d="M1240.25 1250 V1225.8 H1385.25 V1250" fill="none" stroke="#0a0a0a" stroke-width="5.5" stroke-linejoin="miter"/>
<path d="M1484.65 1340.5 V1299 H1618.95 V1340.5" fill="none" stroke="#0a0a0a" stroke-width="5.5" stroke-linejoin="miter"/>
</g>
<text x="228.5" y="1916.3" font-size="74" text-anchor="middle" fill="#000">E</text>
<text x="420" y="1920" font-size="37" text-anchor="middle" fill="#000">kDa</text>
<text x="499.5" y="1938.4" font-size="37" text-anchor="middle" fill="#000">nil</text>
<text x="567.4" y="1938.4" font-size="37" text-anchor="middle" fill="#000">Scr</text>
<text x="639.3" y="1938.4" font-size="37" text-anchor="middle" fill="#000">SS</text>
<text x="427.4" y="2029.4" font-size="37" text-anchor="middle" fill="#000">25</text>
<text x="752" y="2001" font-size="37" text-anchor="middle" fill="#000">Taz</text>
<text x="425.4" y="2085.8" font-size="37" text-anchor="middle" fill="#000">20</text>
<text x="748.3" y="2107.9" font-size="37" text-anchor="middle" fill="#000">CI</text>
<text x="421.7" y="2191.9" font-size="37" text-anchor="middle" fill="#000">50</text>
<text x="752.4" y="2214.8" font-size="37" text-anchor="middle" fill="#000">CS</text>
<text x="418.2" y="2306.1" font-size="37" text-anchor="middle" fill="#000">150</text>
<text x="753.9" y="2325.3" font-size="37" text-anchor="middle" fill="#000">vinc</text>
<rect x="460.1" y="1955.1" width="229.5" height="63.8" fill="#a0cdfc"/>
<rect x="470.6" y="1966" width="50.6" height="24" fill="#7aa2c8" filter="url(#bl4)"/>
<rect x="471.6" y="1968.5" width="48.6" height="7.5" fill="#5f86aa" filter="url(#bl3)"/>
<rect x="471.6" y="1980.5" width="48.6" height="8" fill="#5f86aa" filter="url(#bl3)"/>
<rect x="540.9" y="1966" width="47.7" height="24" fill="#7aa2c8" filter="url(#bl4)"/>
<rect x="541.9" y="1968.5" width="45.7" height="7.5" fill="#5f86aa" filter="url(#bl3)"/>
<rect x="541.9" y="1980.5" width="45.7" height="8" fill="#5f86aa" filter="url(#bl3)"/>
<rect x="609.8" y="1966" width="49.1" height="24" fill="#7aa2c8" filter="url(#bl4)"/>
<rect x="610.8" y="1968.5" width="47.1" height="7.5" fill="#5f86aa" filter="url(#bl3)"/>
<rect x="610.8" y="1980.5" width="47.1" height="8" fill="#5f86aa" filter="url(#bl3)"/>
<rect x="460.1" y="2080.3" width="229.5" height="49.7" fill="#9fcbfc"/>
<ellipse cx="501.8" cy="2091" rx="24.5" ry="2.6" fill="#4d7297" filter="url(#bl2)"/>
<ellipse cx="570.15" cy="2090" rx="23.75" ry="2.6" fill="#4d7297" filter="url(#bl2)"/>
<ellipse cx="637.8" cy="2089" rx="26.6" ry="2.6" fill="#4d7297" filter="url(#bl2)"/>
<rect x="461.2" y="2177" width="228.4" height="56.8" fill="#96c5fa"/>
<path d="M475.9 2189 Q477.9 2193.5 483.4 2193.5 L525 2193.5 Q531 2193.5 533 2190.3" fill="none" stroke="#0a2440" stroke-width="5.6" stroke-linecap="round" filter="url(#bl1)"/>
<path d="M546.2 2189.4 Q548.2 2193.9 553.7 2193.9 L593.3 2193.9 Q599.3 2193.9 601.3 2190.7" fill="none" stroke="#0a2440" stroke-width="5.6" stroke-linecap="round" filter="url(#bl1)"/>
<path d="M615.2 2190.4 Q617.2 2194.9 622.7 2194.9 L661.7 2194.9 Q667.7 2194.9 669.7 2191.7" fill="none" stroke="#0a2440" stroke-width="6.4" stroke-linecap="round" filter="url(#bl1)"/>
<rect x="460.1" y="2285.2" width="228.5" height="46.5" fill="#96c5fa"/>
<rect x="474.5" y="2312.5" width="53.9" height="4.6" fill="#0a2642" filter="url(#bl1)"/>
<rect x="543.6" y="2312.2" width="57.5" height="3.2" fill="#0a2642" filter="url(#bl1)"/>
<rect x="618.4" y="2312.1" width="51.1" height="4.2" fill="#0a2642" filter="url(#bl1)"/>
<g filter="url(#soft)">
<line x1="1089.6" y1="1883.2" x2="1089.6" y2="2329.1" stroke="#141414" stroke-width="4" stroke-linecap="butt"/>
<line x1="1072.8" y1="2327.1" x2="1089.6" y2="2327.1" stroke="#141414" stroke-width="4" stroke-linecap="butt"/>
<text x="1064" y="2340.6" font-size="30" font-weight="bold" text-anchor="end" fill="#050505">0</text>
<line x1="1072.8" y1="2179.8" x2="1089.6" y2="2179.8" stroke="#141414" stroke-width="4" stroke-linecap="butt"/>
<text x="1064" y="2193.3" font-size="30" font-weight="bold" text-anchor="end" fill="#050505">1</text>
<line x1="1072.8" y1="2032.5" x2="1089.6" y2="2032.5" stroke="#141414" stroke-width="4" stroke-linecap="butt"/>
<text x="1064" y="2046" font-size="30" font-weight="bold" text-anchor="end" fill="#050505">2</text>
<line x1="1072.8" y1="1885.2" x2="1089.6" y2="1885.2" stroke="#141414" stroke-width="4" stroke-linecap="butt"/>
<text x="1064" y="1898.7" font-size="30" font-weight="bold" text-anchor="end" fill="#050505">3</text>
</g>
<text transform="translate(1018.9 2133.3) rotate(-90)" font-size="37" text-anchor="middle" fill="#000">normalized protein abundance</text>
<g filter="url(#soft)">
<path d="M1114.3 2327.1 V2079.69 H1149.3 V2327.1" fill="#d8bea6" stroke="#a8855a" stroke-width="6"/>
<path d="M1175.2 2327.1 V2090 H1210.2 V2327.1" fill="#8090cb" stroke="#031a9a" stroke-width="6"/>
<path d="M1237.5 2327.1 V2066.43 H1272.5 V2327.1" fill="#bd8bb5" stroke="#7a176b" stroke-width="6"/>
<line x1="1131.8" y1="2050.18" x2="1131.8" y2="2103.2" stroke="#a8855a" stroke-width="2.4" stroke-linecap="butt" opacity="0.6"/>
<line x1="1121.3" y1="2050.18" x2="1142.3" y2="2050.18" stroke="#a8855a" stroke-width="2.4" stroke-linecap="butt" opacity="0.6"/>
<line x1="1121.3" y1="2103.2" x2="1142.3" y2="2103.2" stroke="#a8855a" stroke-width="2.4" stroke-linecap="butt" opacity="0.6"/>
<line x1="1192.7" y1="2025.13" x2="1192.7" y2="2144.45" stroke="#031a9a" stroke-width="2.4" stroke-linecap="butt" opacity="0.6"/>
<line x1="1182.2" y1="2025.13" x2="1203.2" y2="2025.13" stroke="#031a9a" stroke-width="2.4" stroke-linecap="butt" opacity="0.6"/>
<line x1="1182.2" y1="2144.45" x2="1203.2" y2="2144.45" stroke="#031a9a" stroke-width="2.4" stroke-linecap="butt" opacity="0.6"/>
<line x1="1255" y1="2033.97" x2="1255" y2="2089.95" stroke="#7a176b" stroke-width="2.4" stroke-linecap="butt" opacity="0.6"/>
<line x1="1244.5" y1="2033.97" x2="1265.5" y2="2033.97" stroke="#7a176b" stroke-width="2.4" stroke-linecap="butt" opacity="0.6"/>
<line x1="1244.5" y1="2089.95" x2="1265.5" y2="2089.95" stroke="#7a176b" stroke-width="2.4" stroke-linecap="butt" opacity="0.6"/>
<circle cx="1131.8" cy="2025.13" r="8.2" fill="#a8855a"/>
<circle cx="1144.8" cy="2091.42" r="8.2" fill="#a8855a"/>
<circle cx="1118.8" cy="2107.62" r="8.2" fill="#a8855a"/>
<circle cx="1192.7" cy="1966.21" r="8.2" fill="#031a9a"/>
<circle cx="1205.7" cy="2135.61" r="8.2" fill="#031a9a"/>
<circle cx="1181.7" cy="2151.81" r="8.2" fill="#031a9a"/>
<circle cx="1255" cy="2019.24" r="8.2" fill="#7a176b"/>
<circle cx="1255" cy="2051.65" r="8.2" fill="#7a176b"/>
<circle cx="1255" cy="2116.46" r="8.2" fill="#7a176b"/>
<path d="M1340.8 2327.1 V2240.25 H1375.8 V2327.1" fill="#d8bea6" stroke="#a8855a" stroke-width="6"/>
<path d="M1402.5 2327.1 V2260.87 H1437.5 V2327.1" fill="#8090cb" stroke="#031a9a" stroke-width="6"/>
<path d="M1464.9 2327.1 V2260.87 H1499.9 V2327.1" fill="#bd8bb5" stroke="#7a176b" stroke-width="6"/>
<line x1="1358.3" y1="2228.41" x2="1358.3" y2="2246.09" stroke="#a8855a" stroke-width="2.4" stroke-linecap="butt" opacity="0.6"/>
<line x1="1347.8" y1="2228.41" x2="1368.8" y2="2228.41" stroke="#a8855a" stroke-width="2.4" stroke-linecap="butt" opacity="0.6"/>
<line x1="1347.8" y1="2246.09" x2="1368.8" y2="2246.09" stroke="#a8855a" stroke-width="2.4" stroke-linecap="butt" opacity="0.6"/>
<line x1="1420" y1="2237.25" x2="1420" y2="2275.55" stroke="#031a9a" stroke-width="2.4" stroke-linecap="butt" opacity="0.6"/>
<line x1="1409.5" y1="2237.25" x2="1430.5" y2="2237.25" stroke="#031a9a" stroke-width="2.4" stroke-linecap="butt" opacity="0.6"/>
<line x1="1409.5" y1="2275.55" x2="1430.5" y2="2275.55" stroke="#031a9a" stroke-width="2.4" stroke-linecap="butt" opacity="0.6"/>
<line x1="1482.4" y1="2247.56" x2="1482.4" y2="2268.18" stroke="#7a176b" stroke-width="2.4" stroke-linecap="butt" opacity="0.6"/>
<line x1="1471.9" y1="2247.56" x2="1492.9" y2="2247.56" stroke="#7a176b" stroke-width="2.4" stroke-linecap="butt" opacity="0.6"/>
<line x1="1471.9" y1="2268.18" x2="1492.9" y2="2268.18" stroke="#7a176b" stroke-width="2.4" stroke-linecap="butt" opacity="0.6"/>
<circle cx="1358.3" cy="2220.16" r="8.2" fill="#a8855a"/>
<circle cx="1370.3" cy="2238.72" r="8.2" fill="#a8855a"/>
<circle cx="1346.3" cy="2249.33" r="8.2" fill="#a8855a"/>
<circle cx="1420" cy="2226.94" r="8.2" fill="#031a9a"/>
<circle cx="1420" cy="2251.98" r="8.2" fill="#031a9a"/>
<circle cx="1420" cy="2291.75" r="8.2" fill="#031a9a"/>
<circle cx="1482.4" cy="2235.77" r="8.2" fill="#7a176b"/>
<circle cx="1472.4" cy="2266.71" r="8.2" fill="#7a176b"/>
<circle cx="1494.4" cy="2266.71" r="8.2" fill="#7a176b"/>
<path d="M1567.8 2327.1 V2182.06 H1602.8 V2327.1" fill="#d8bea6" stroke="#a8855a" stroke-width="6"/>
<path d="M1629 2327.1 V2138.61 H1664 V2327.1" fill="#8090cb" stroke="#031a9a" stroke-width="6"/>
<path d="M1691.4 2327.1 V2133.75 H1726.4 V2327.1" fill="#bd8bb5" stroke="#7a176b" stroke-width="6"/>
<line x1="1585.3" y1="2144.45" x2="1585.3" y2="2212.21" stroke="#a8855a" stroke-width="2.4" stroke-linecap="butt" opacity="0.6"/>
<line x1="1574.8" y1="2144.45" x2="1595.8" y2="2144.45" stroke="#a8855a" stroke-width="2.4" stroke-linecap="butt" opacity="0.6"/>
<line x1="1574.8" y1="2212.21" x2="1595.8" y2="2212.21" stroke="#a8855a" stroke-width="2.4" stroke-linecap="butt" opacity="0.6"/>
<line x1="1646.5" y1="2107.62" x2="1646.5" y2="2163.6" stroke="#031a9a" stroke-width="2.4" stroke-linecap="butt" opacity="0.6"/>
<line x1="1636" y1="2107.62" x2="1657" y2="2107.62" stroke="#031a9a" stroke-width="2.4" stroke-linecap="butt" opacity="0.6"/>
<line x1="1636" y1="2163.6" x2="1657" y2="2163.6" stroke="#031a9a" stroke-width="2.4" stroke-linecap="butt" opacity="0.6"/>
<line x1="1708.9" y1="2086.41" x2="1708.9" y2="2169.34" stroke="#7a176b" stroke-width="2.4" stroke-linecap="butt" opacity="0.6"/>
<line x1="1698.4" y1="2086.41" x2="1719.4" y2="2086.41" stroke="#7a176b" stroke-width="2.4" stroke-linecap="butt" opacity="0.6"/>
<line x1="1698.4" y1="2169.34" x2="1719.4" y2="2169.34" stroke="#7a176b" stroke-width="2.4" stroke-linecap="butt" opacity="0.6"/>
<circle cx="1585.3" cy="2111.6" r="8.2" fill="#a8855a"/>
<circle cx="1585.3" cy="2196.89" r="8.2" fill="#a8855a"/>
<circle cx="1585.3" cy="2223.99" r="8.2" fill="#a8855a"/>
<circle cx="1635.5" cy="2098.34" r="8.2" fill="#031a9a"/>
<circle cx="1658.5" cy="2107.62" r="8.2" fill="#031a9a"/>
<circle cx="1646.5" cy="2194.97" r="8.2" fill="#031a9a"/>
<circle cx="1708.9" cy="2073.15" r="8.2" fill="#7a176b"/>
<circle cx="1708.9" cy="2102.32" r="8.2" fill="#7a176b"/>
<circle cx="1708.9" cy="2210.88" r="8.2" fill="#7a176b"/>
<line x1="1087.6" y1="2327.1" x2="1748.9" y2="2327.1" stroke="#141414" stroke-width="4.4" stroke-linecap="butt"/>
<line x1="1192.7" y1="2327.1" x2="1192.7" y2="2346" stroke="#141414" stroke-width="4" stroke-linecap="butt"/>
<line x1="1420" y1="2327.1" x2="1420" y2="2346" stroke="#141414" stroke-width="4" stroke-linecap="butt"/>
<line x1="1646.1" y1="2327.1" x2="1646.1" y2="2346" stroke="#141414" stroke-width="4" stroke-linecap="butt"/>
</g>
<text x="1205.8" y="2385.2" font-size="37" text-anchor="middle" fill="#000">Taz</text>
<text x="1417.2" y="2385.2" font-size="37" text-anchor="middle" fill="#000">CI</text>
<text x="1654.9" y="2385.2" font-size="37" text-anchor="middle" fill="#000">CS</text>
<text x="1200.8" y="1897.6" font-size="37" text-anchor="middle" fill="#000">p=&gt;0.05</text>
<text x="1437.5" y="2107.6" font-size="37" text-anchor="middle" fill="#000">p=&gt;0.05</text>
<text x="1651.6" y="1976.5" font-size="37" text-anchor="middle" fill="#000">p=&gt;0.05</text>
<g filter="url(#soft)">
<path d="M1132.35 1936.5 V1913.5 H1249.25 V1936.5" fill="none" stroke="#0a0a0a" stroke-width="5.5" stroke-linejoin="miter"/>
<path d="M1362.95 2158.5 V2129 H1481.75 V2158.5" fill="none" stroke="#0a0a0a" stroke-width="5.5" stroke-linejoin="miter"/>
<path d="M1586.35 2023.5 V1994 H1705.15 V2023.5" fill="none" stroke="#0a0a0a" stroke-width="5.5" stroke-linejoin="miter"/>
</g>
<g filter="url(#soft)">
<circle cx="1792.6" cy="1965.2" r="9.2" fill="#a8855a"/>
<text x="1860" y="1980.8" font-size="37" text-anchor="middle" fill="#111">nil</text>
<circle cx="1792.6" cy="2023.8" r="9.2" fill="#031a9a"/>
<text x="1869.6" y="2038.3" font-size="37" text-anchor="middle" fill="#111">Scr</text>
<circle cx="1795.8" cy="2087.5" r="9.2" fill="#7a176b"/>
<text x="1869.6" y="2100" font-size="37" text-anchor="middle" fill="#111">SS</text>
</g>
</svg>
</body></html>
